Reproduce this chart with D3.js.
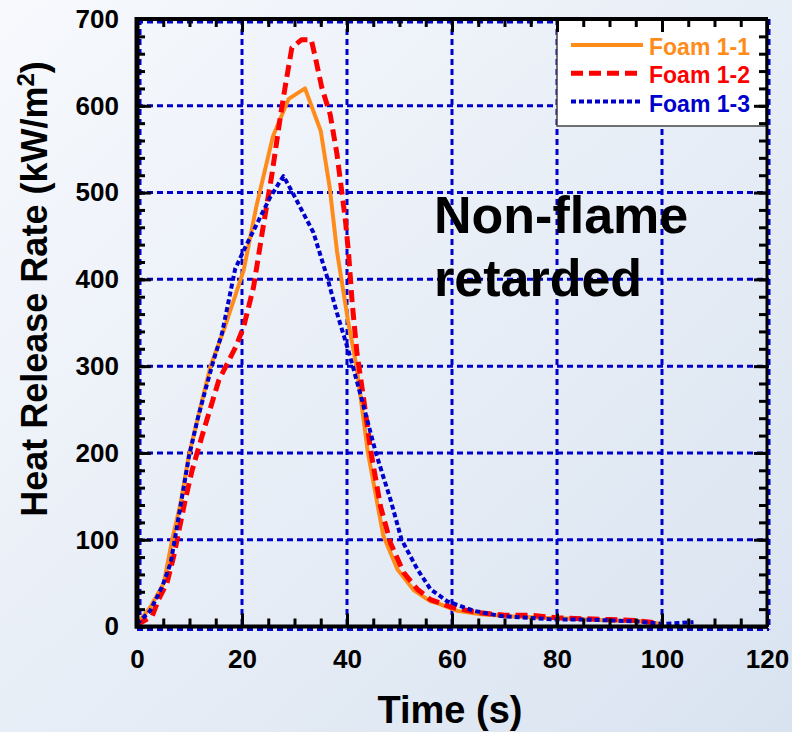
<!DOCTYPE html>
<html>
<head>
<meta charset="utf-8">
<script src="https://cdn.jsdelivr.net/npm/d3@7"></script>
<style>
  body { margin: 0; }
  svg { display: block; font-family: "Liberation Sans", Arial, sans-serif; font-weight: bold; }
</style>
</head>
<body>
<svg id="chart" width="792" height="732"></svg>
<script>
// data: [time (s), HRR (kW/m2)]
const foam11 = [
  [0, 3], [2.5, 22], [5.1, 50], [6.7, 100], [8.3, 142], [9.9, 198], [12.1, 253],
  [14, 300], [16.5, 341], [20.3, 410], [22.7, 483], [25.9, 565], [28.9, 608],
  [32, 620], [35, 571], [36.7, 506], [38.1, 432], [40.2, 352], [41.8, 300],
  [44, 200], [46.9, 105], [49.6, 66], [52.7, 42], [55.9, 29], [57.2, 27],
  [61, 18], [65.5, 14], [70.5, 12], [77, 10], [83, 9], [90, 7], [96, 6], [100, 3]
];
const foam12 = [
  [0, 2], [2.9, 12], [4.1, 31], [5.7, 50], [7, 81], [8, 111], [9.2, 146],
  [10.5, 180], [12.7, 226], [15.6, 284], [17.2, 303], [18.8, 322], [20.3, 345],
  [22.2, 391], [23.8, 452], [25.7, 521], [27.3, 587], [28.2, 621], [29.5, 667],
  [31.3, 676], [33.2, 676], [34, 655], [35.2, 621], [36.8, 590], [38.1, 544],
  [39.7, 468], [40.3, 430], [41, 372], [41.9, 315], [43.2, 261], [44.5, 203],
  [46.4, 138], [48.3, 96], [50.8, 62], [53.4, 43], [55.9, 31], [60, 22],
  [65, 16], [70, 13], [75, 13], [80, 10], [85, 9], [90, 8], [95, 7], [99, 4]
];
const foam13 = [
  [0, 3], [2.5, 18], [4.8, 46], [6.4, 73], [7.3, 104], [8.6, 150], [9.9, 196],
  [11.5, 238], [13, 272], [14.6, 307], [16.2, 338], [18.7, 412], [20.3, 433],
  [23.5, 472], [25.4, 495], [27.9, 519], [29.8, 498], [33.6, 454], [36.2, 403],
  [38, 363], [40.2, 319], [41.1, 300], [43.2, 253], [45.5, 200], [48.3, 146],
  [50.4, 100], [53.4, 66], [55.9, 43], [59.1, 29], [64.2, 18], [69.3, 12],
  [74.4, 10], [79.5, 8], [85, 8], [90, 7], [95, 6], [100, 3], [103, 4], [106, 5]
];

const seriesNames = ["Foam 1-1", "Foam 1-2", "Foam 1-3"];
const xTicks = [0, 20, 40, 60, 80, 100, 120];
const yTicks = [0, 100, 200, 300, 400, 500, 600, 700];
const xMinor = d3.range(0, 121, 5);
const yMinor = d3.range(0, 701, 20);

const svg = d3.select("#chart");
const W = 792, H = 732;
const pLeft = 137, pRight = 767, pTop = 19, pBottom = 626.5;

// background gradient
const defs = svg.append("defs");
const grad = defs.append("linearGradient").attr("id", "bg")
  .attr("x1", 0).attr("y1", 0).attr("x2", 1).attr("y2", 1);
grad.append("stop").attr("offset", "0%").attr("stop-color", "#f7f9fd");
grad.append("stop").attr("offset", "100%").attr("stop-color", "#d9e3f0");
svg.append("rect").attr("width", W).attr("height", H).attr("fill", "url(#bg)");

const x = d3.scaleLinear().domain([0, 120]).range([pLeft, pRight]);
const y = d3.scaleLinear().domain([0, 700]).range([pBottom, pTop]);

// --- grid (blue dashed) ---
const grid = svg.append("g")
  .attr("stroke", "#0000cc").attr("stroke-width", 3).attr("stroke-dasharray", "6,4");
xTicks.forEach(t => {
  let off = t === 0 ? 3 : (t === 120 ? 2 : 0);
  grid.append("line").attr("x1", x(t) + off).attr("x2", x(t) + off)
    .attr("y1", pTop).attr("y2", pBottom + 3);
});
yTicks.forEach(v => {
  let off = v === 0 ? 3 : (v === 700 ? 3 : 0);
  grid.append("line").attr("y1", y(v) + off).attr("y2", y(v) + off)
    .attr("x1", pLeft).attr("x2", pRight + 2);
});

// --- curves ---
const line = d3.line().x(d => x(d[0])).y(d => y(d[1]));
const styles = [
  {data: foam11, color: "#ff8c1a", width: 4, dash: null},
  {data: foam12, color: "#ff0000", width: 5, dash: "12,6"},
  {data: foam13, color: "#0000cc", width: 4, dash: "5,3"}
];
styles.forEach(s => {
  svg.append("path")
    .datum(s.data)
    .attr("fill", "none")
    .attr("stroke", s.color)
    .attr("stroke-width", s.width)
    .attr("stroke-dasharray", s.dash)
    .attr("stroke-linejoin", "round")
    .attr("d", line);
});

// --- annotation ---
const note = svg.append("text").attr("x", 434).attr("font-size", 52).attr("fill", "#000");
note.append("tspan").attr("x", 434).attr("y", 233).text("Non-flame");
note.append("tspan").attr("x", 434).attr("y", 296).text("retarded");

// --- legend ---
const legend = svg.append("g");
legend.append("rect").attr("x", 557).attr("y", 20).attr("width", 209).attr("height", 106)
  .attr("fill", "#fff").attr("stroke", "#444").attr("stroke-width", 1.5);
styles.forEach((s, i) => {
  const cy = 45 + i * 28.3;
  legend.append("line").attr("x1", 571).attr("x2", 643).attr("y1", cy).attr("y2", cy)
    .attr("stroke", s.color).attr("stroke-width", s.width).attr("stroke-dasharray", s.dash);
  legend.append("text").attr("x", 649).attr("y", cy + 10)
    .attr("font-size", 23).attr("fill", s.color).text(seriesNames[i]);
});

// --- axes: ticks inward ---
function styleAxis(g) {
  g.select(".domain").remove();
  g.selectAll("line").attr("stroke", "#000").attr("stroke-width", 3);
  g.selectAll("text").attr("font-size", 26).attr("font-family", null).attr("fill", "#000");
}
svg.append("g").attr("transform", `translate(0,${pBottom})`)
  .call(d3.axisBottom(x).tickValues(xMinor).tickSize(-8).tickFormat(""))
  .call(styleAxis);
svg.append("g").attr("transform", `translate(0,${pBottom})`)
  .call(d3.axisBottom(x).tickValues(xTicks).tickSize(-13).tickPadding(23))
  .call(styleAxis);
svg.append("g").attr("transform", `translate(0,${pTop})`)
  .call(d3.axisTop(x).tickValues(xMinor).tickSize(-8).tickFormat(""))
  .call(styleAxis);
svg.append("g").attr("transform", `translate(0,${pTop})`)
  .call(d3.axisTop(x).tickValues(xTicks).tickSize(-13).tickFormat(""))
  .call(styleAxis);
svg.append("g").attr("transform", `translate(${pLeft},0)`)
  .call(d3.axisLeft(y).tickValues(yMinor).tickSize(-8).tickFormat(""))
  .call(styleAxis);
svg.append("g").attr("transform", `translate(${pLeft},0)`)
  .call(d3.axisLeft(y).tickValues(yTicks).tickSize(-14).tickPadding(18))
  .call(styleAxis);
svg.append("g").attr("transform", `translate(${pRight},0)`)
  .call(d3.axisRight(y).tickValues(yMinor).tickSize(-8).tickFormat(""))
  .call(styleAxis);
svg.append("g").attr("transform", `translate(${pRight},0)`)
  .call(d3.axisRight(y).tickValues(yTicks).tickSize(-13).tickFormat(""))
  .call(styleAxis);

// frame
svg.append("line").attr("x1", pLeft).attr("x2", pLeft).attr("y1", pTop - 2).attr("y2", pBottom + 2)
  .attr("stroke", "#000").attr("stroke-width", 5);
svg.append("line").attr("x1", pLeft - 2).attr("x2", pRight + 1).attr("y1", pBottom).attr("y2", pBottom)
  .attr("stroke", "#000").attr("stroke-width", 4);
svg.append("line").attr("x1", pLeft - 2).attr("x2", pRight + 1).attr("y1", pTop).attr("y2", pTop)
  .attr("stroke", "#000").attr("stroke-width", 4);
svg.append("line").attr("x1", pRight).attr("x2", pRight).attr("y1", pTop).attr("y2", pBottom)
  .attr("stroke", "#000").attr("stroke-width", 3);

// --- axis titles ---
svg.append("text").attr("x", 450).attr("y", 723).attr("text-anchor", "middle")
  .attr("font-size", 38).text("Time (s)");
const yt = svg.append("text").attr("transform", "translate(47,289) rotate(-90)")
  .attr("text-anchor", "middle").attr("font-size", 36);
yt.append("tspan").text("Heat Release Rate (kW/m");
yt.append("tspan").attr("font-size", 24).attr("dy", -13).text("2");
yt.append("tspan").attr("dy", 13).text(")");
</script>
</body>
</html>
